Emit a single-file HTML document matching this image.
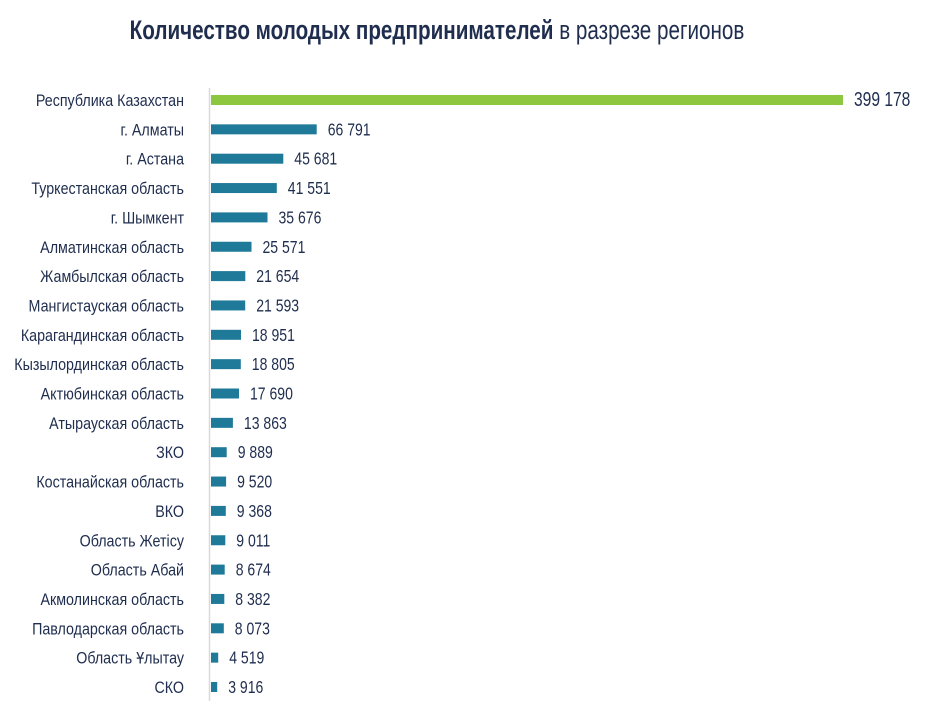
<!DOCTYPE html>
<html><head><meta charset="utf-8"><style>
html,body{margin:0;padding:0;background:#fff;}
svg{display:block;}
text{font-family:"Liberation Sans",sans-serif;fill:#1f2d4e;}
</style></head><body>
<svg width="925" height="713" viewBox="0 0 925 713" xmlns="http://www.w3.org/2000/svg">
<g transform="translate(437,39) scale(0.765,1)"><text x="0" y="0" text-anchor="middle" font-size="27"><tspan font-weight="bold">Количество молодых предпринимателей</tspan> в разрезе регионов</text></g>
<line x1="209.5" y1="88" x2="209.5" y2="701" stroke="#d9d9d9" stroke-width="1.5"/>
<g id="rows"></g>
</svg>
<script>
var d=[["Республика Казахстан",399178,"399 178"],["г. Алматы",66791,"66 791"],["г. Астана",45681,"45 681"],["Туркестанская область",41551,"41 551"],["г. Шымкент",35676,"35 676"],["Алматинская область",25571,"25 571"],["Жамбылская область",21654,"21 654"],["Мангистауская область",21593,"21 593"],["Карагандинская область",18951,"18 951"],["Кызылординская область",18805,"18 805"],["Актюбинская область",17690,"17 690"],["Атырауская область",13863,"13 863"],["ЗКО",9889,"9 889"],["Костанайская область",9520,"9 520"],["ВКО",9368,"9 368"],["Область Жетісу",9011,"9 011"],["Область Абай",8674,"8 674"],["Акмолинская область",8382,"8 382"],["Павлодарская область",8073,"8 073"],["Область Ұлытау",4519,"4 519"],["СКО",3916,"3 916"]];
var g=document.getElementById("rows"),s="";
for(var i=0;i<d.length;i++){var y=100+i*29.35,w=d[i][1]*632/399178,c=i==0?"#8dc63f":"#1f7a99";
s+='<rect x="211" y="'+(y-5)+'" width="'+w.toFixed(1)+'" height="10" fill="'+c+'"/>';
s+='<g transform="translate(184,'+(y+6)+') scale(0.84,1)"><text text-anchor="end" font-size="17">'+d[i][0]+'</text></g>';
s+='<g transform="translate('+(211+w+11).toFixed(1)+','+(y+6)+') scale(0.78,1)"><text font-size="'+(i==0?20:18)+'">'+d[i][2]+'</text></g>';}
g.innerHTML=s;
</script>
</body></html>
